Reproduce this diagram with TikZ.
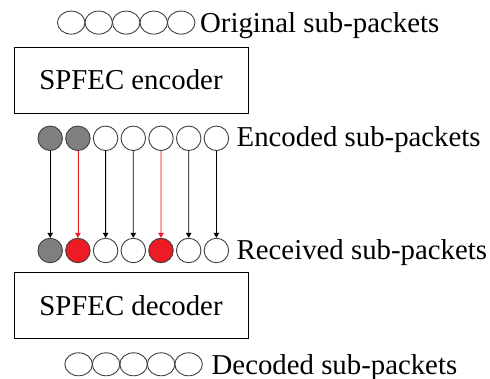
\documentclass[tikz,border=0pt]{standalone}
\usepackage{fontspec}
\setmainfont{Liberation Serif}
\usetikzlibrary{shapes.geometric,arrows.meta}
\definecolor{pktgray}{HTML}{7F7F7F}
\definecolor{pktred}{HTML}{ED1C24}
\definecolor{pktline}{HTML}{404040}
\tikzset{
  flat/.style={ellipse,draw=pktline,line width=0.9pt,minimum width=27.5pt,minimum height=23pt,inner sep=0pt,outer sep=0pt},
  pkt/.style={circle,draw=pktline,line width=0.9pt,minimum size=24.5pt,inner sep=0pt,fill=white},
  lost/.style={pkt,fill=pktgray},
  hit/.style={pkt,fill=pktred},
  codec/.style={draw,line width=0.9pt,minimum width=234pt,minimum height=66pt,inner sep=0pt},
  tag/.style={anchor=base west,inner sep=0pt},
  flow/.style={line width=0.8pt,-{Triangle[length=5pt,width=5.5pt]}},
}
\begin{document}
\begin{tikzpicture}[x=1pt,y=-1pt,font=\fontsize{28.8}{34}\selectfont]
\useasboundingbox (0,0) rectangle (490,379);

% original sub-packets
\foreach \i in {1,...,5}
  \node[flat] (o\i) at ({71.2+27.5*(\i-1)},22.6) {};
\node[tag] (lo) at (200,32.8) {Original sub-packets};

% encoder
\node[codec] (enc) at (131,80) {SPFEC encoder};

% encoded sub-packets
\node[lost] (e1) at (50.2,138.3) {};
\node[lost] (e2) at (77.9,138.3) {};
\foreach \i in {3,...,7}
  \node[pkt] (e\i) at ({50.2+27.7*(\i-1)},138.3) {};
\node[tag] (le) at (236.5,147) {Encoded sub-packets};

% received sub-packets
\node[lost] (r1) at (50.2,250.5) {};
\node[hit] (r2) at (77.9,250.5) {};
\node[pkt] (r3) at (105.6,250.5) {};
\node[pkt] (r4) at (133.3,250.5) {};
\node[hit] (r5) at (161.0,250.5) {};
\node[pkt] (r6) at (188.7,250.5) {};
\node[pkt] (r7) at (216.4,250.5) {};
\node[tag] (lr) at (236.5,259.5) {Received sub-packets};

% transmission
\foreach \i in {1,3,4,6,7}
  \draw[flow] (e\i.south) -- (r\i.north);
\foreach \i in {2,5}
  \draw[flow,draw=pktred,fill=pktred] (e\i.south) -- (r\i.north);

% decoder
\node[codec] (dec) at (131,305.5) {SPFEC decoder};

% decoded sub-packets
\foreach \i in {1,...,5}
  \node[flat] (d\i) at ({78.6+27.5*(\i-1)},364.3) {};
\node[tag] (ld) at (211.5,374) {Decoded sub-packets};
\end{tikzpicture}
\end{document}
